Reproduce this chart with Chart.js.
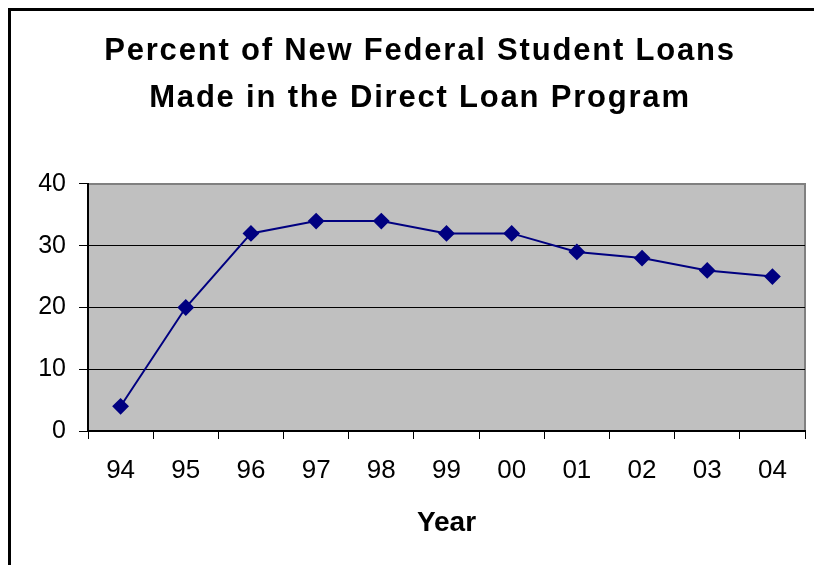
<!DOCTYPE html>
<html>
<head>
<meta charset="utf-8">
<script src="https://cdn.jsdelivr.net/npm/chart.js@4.4.1/dist/chart.umd.min.js"></script>
<style>
  html, body { margin: 0; padding: 0; background: #ffffff; }
  #wrap { position: relative; width: 814px; height: 565px; }
  canvas { display: block; }
</style>
</head>
<body>
<div id="wrap"><canvas id="c" width="814" height="565"></canvas></div>
<script>
const titleLines = ["Percent of New Federal Student Loans", "Made in the Direct Loan Program"];
const xAxisTitle = "Year";
const years = ["94", "95", "96", "97", "98", "99", "00", "01", "02", "03", "04"];
const percentDirect = [4, 20, 32, 34, 34, 32, 32, 29, 28, 26, 25];
const yTicks = [0, 10, 20, 30, 40];

const FONT = "'Liberation Sans', Arial, sans-serif";

const framePlugin = {
  id: 'frame',
  afterInit(chart) {
    const tb = chart.titleBlock;
    if (tb && !tb._spaced) {
      const orig = tb.draw;
      tb.draw = function (...args) {
        const ctx = chart.ctx;
        ctx.save();
        try { ctx.letterSpacing = '1.8px'; } catch (e) {}
        orig.apply(this, args);
        ctx.restore();
      };
      tb._spaced = true;
    }
  },
  beforeDraw(chart) {
    const ctx = chart.ctx;
    const a = chart.chartArea;
    ctx.save();
    ctx.fillStyle = '#ffffff';
    ctx.fillRect(0, 0, chart.width, chart.height);
    // outer frame (left and top)
    ctx.fillStyle = '#000000';
    ctx.fillRect(8, 8, chart.width, 3);
    ctx.fillRect(8, 8, 3, chart.height);
    // plot background
    ctx.fillStyle = '#c0c0c0';
    ctx.fillRect(a.left, a.top, a.right - a.left, a.bottom - a.top);
    ctx.strokeStyle = '#808080';
    ctx.lineWidth = 2;
    ctx.beginPath();
    ctx.moveTo(a.left, a.top);
    ctx.lineTo(a.right, a.top);
    ctx.lineTo(a.right, a.bottom);
    ctx.stroke();
    ctx.restore();
  }
};

new Chart(document.getElementById('c'), {
  type: 'line',
  data: {
    labels: years,
    datasets: [{
      data: percentDirect,
      borderColor: '#000080',
      backgroundColor: '#000080',
      borderWidth: 2,
      pointStyle: 'rectRot',
      pointRadius: 7,
      pointHoverRadius: 7,
      pointBackgroundColor: '#000080',
      pointBorderColor: '#000080',
      tension: 0,
      fill: false
    }]
  },
  options: {
    responsive: false,
    animation: false,
    devicePixelRatio: 1,
    layout: { padding: { left: 34, right: 8, top: 11, bottom: 0 } },
    plugins: {
      legend: { display: false },
      tooltip: { enabled: false },
      title: {
        display: true,
        text: titleLines,
        color: '#000000',
        font: { family: FONT, size: 31, weight: 'bold', lineHeight: 1.516 },
        padding: { top: 16.5, bottom: 62.5 }
      }
    },
    scales: {
      x: {
        offset: true,
        grid: {
          offset: true,
          drawOnChartArea: false,
          drawTicks: true,
          tickLength: 8,
          tickColor: '#000000',
          tickWidth: 1
        },
        border: { display: true, color: '#000000', width: 2 },
        ticks: {
          color: '#000000',
          font: { family: FONT, size: 26 },
          padding: 16,
          maxRotation: 0,
          autoSkip: false
        },
        title: {
          display: true,
          text: xAxisTitle,
          color: '#000000',
          font: { family: FONT, size: 28, weight: 'bold' },
          padding: { top: 0, bottom: 25 }
        },
        afterFit(scale) { scale.height = 134; }
      },
      y: {
        min: 0,
        max: 40,
        afterBuildTicks(scale) { scale.ticks = yTicks.map(v => ({ value: v })); },
        grid: {
          color(ctx) { return ctx.tick && ctx.tick.value === 40 ? '#808080' : '#000000'; },
          lineWidth: 1,
          drawTicks: true,
          tickLength: 9,
          tickColor: '#000000',
          tickWidth: 1
        },
        border: { display: true, color: '#000000', width: 2 },
        ticks: {
          color: '#000000',
          font: { family: FONT, size: 25 },
          padding: 13
        },
        afterFit(scale) { scale.width = 54; }
      }
    }
  },
  plugins: [framePlugin]
});
</script>
</body>
</html>
